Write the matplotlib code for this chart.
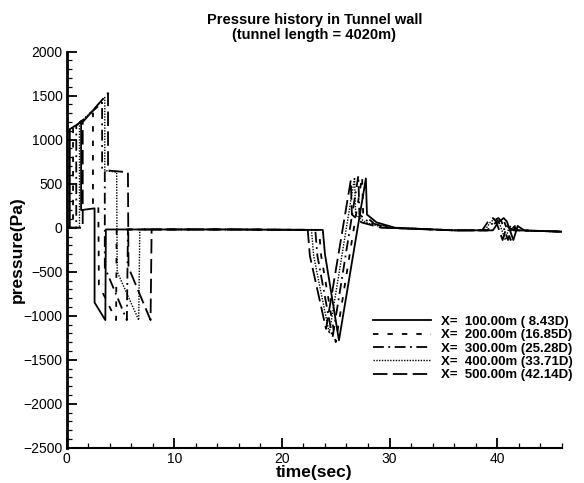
import matplotlib
matplotlib.use("Agg")
import matplotlib.pyplot as plt
from matplotlib.ticker import MultipleLocator

plt.rcParams['font.family'] = ['Liberation Sans', 'DejaVu Sans']

# ---- data (time in s, pressure in Pa) ----
t_100 = [0, 0.3, 0.3, 1.35, 1.35, 2.6, 2.6, 3.6, 3.65, 8, 15, 23.8, 24.0, 25.3, 27.8, 27.9, 28.8, 30.5, 36, 39.6, 40.1, 40.6, 40.9, 41.5, 41.9, 42.5, 46]
p_100 = [0, 0, 1120, 1200, 200, 220, -850, -1050, -20, -20, -20, -25, -300, -1280, 560, 150, 60, 0, -30, -30, 60, 110, 70, -140, 20, -30, -45]

t_200 = [0, 0.6, 0.6, 2.45, 2.45, 2.95, 3.0, 4.6, 4.65, 8, 15, 23.45, 23.65, 25.0, 27.45, 27.55, 28.45, 30.2, 36, 39.35, 39.85, 40.35, 40.65, 41.25, 41.65, 42.25, 46]
p_200 = [0, 0, 1150, 1300, 250, 250, -650, -1050, -20, -20, -20, -25, -320, -1300, 580, 150, 60, 0, -30, -30, 60, 110, 70, -140, 20, -30, -45]

t_300 = [0, 0.9, 0.9, 3.3, 3.3, 3.55, 3.55, 5.6, 5.7, 8, 15, 23.1, 23.3, 24.7, 27.1, 27.2, 28.1, 29.9, 36, 39.1, 39.6, 40.1, 40.4, 41.0, 41.4, 42.0, 46]
p_300 = [0, 0, 1160, 1420, 650, 640, -450, -1050, -20, -20, -20, -25, -320, -1250, 590, 150, 60, 0, -30, -30, 60, 110, 70, -140, 20, -30, -45]

t_400 = [0, 1.2, 1.2, 3.55, 3.55, 4.65, 4.7, 6.7, 6.8, 8, 15, 22.75, 22.95, 24.4, 26.75, 26.85, 27.75, 29.5, 36, 38.85, 39.35, 39.85, 40.15, 40.75, 41.15, 41.75, 46]
p_400 = [0, 0, 1180, 1480, 650, 630, -500, -1050, -20, -20, -20, -25, -320, -1200, 570, 150, 60, 0, -30, -30, 60, 110, 70, -140, 20, -30, -45]

t_500 = [0, 1.5, 1.5, 3.85, 3.85, 5.7, 5.75, 7.8, 7.9, 15, 22.4, 22.6, 24.1, 26.4, 26.5, 27.4, 29.2, 36, 38.6, 39.1, 39.6, 39.9, 40.5, 40.9, 41.5, 46]
p_500 = [0, 0, 1200, 1530, 650, 630, -450, -1050, -20, -20, -25, -320, -1150, 540, 150, 60, 0, -30, -30, 60, 110, 70, -140, 20, -30, -45]

labels = ["X=  100.00m ( 8.43D)", "X=  200.00m (16.85D)", "X=  300.00m (25.28D)",
          "X=  400.00m (33.71D)", "X=  500.00m (42.14D)"]

series_t = [t_100, t_200, t_300, t_400, t_500]
series_p = [p_100, p_200, p_300, p_400, p_500]
styles = ['-', (0, (3, 5)), (0, (6, 2.5, 1, 2.5)), (0, (1, 1)), (0, (8, 3))]
widths = [1.3, 1.3, 1.3, 1.0, 1.3]

fig = plt.figure(figsize=(5.84, 4.83), dpi=100)
ax = fig.add_axes([0.114, 0.073, 0.848, 0.820])

for t, p, ls, lw, lab in zip(series_t, series_p, styles, widths, labels):
    ax.plot(t, p, color='black', linestyle=ls, linewidth=lw, label=lab)

ax.set_xlim(0, 46)
ax.set_ylim(-2500, 2000)
ax.xaxis.set_major_locator(MultipleLocator(10))
ax.xaxis.set_minor_locator(MultipleLocator(2))
ax.yaxis.set_major_locator(MultipleLocator(500))
ax.yaxis.set_minor_locator(MultipleLocator(100))
ax.tick_params(which='both', direction='in', labelsize=10, width=1.3, pad=3)
ax.tick_params(which='major', length=7)
ax.tick_params(which='minor', length=3.5, width=0.9)
ax.spines['top'].set_visible(False)
ax.spines['right'].set_visible(False)
ax.spines['left'].set_linewidth(2)
ax.spines['bottom'].set_linewidth(1.5)

ax.set_title("Pressure history in Tunnel wall\n(tunnel length = 4020m)",
             fontsize=10.5, fontweight='bold', pad=9, linespacing=1.1)
ax.set_xlabel("time(sec)", fontsize=12.5, fontweight='bold', labelpad=-1)
ax.set_ylabel("pressure(Pa)", fontsize=12.5, fontweight='bold', labelpad=-1)

leg = ax.legend(loc='upper left', bbox_to_anchor=(0.618, 0.333), frameon=False,
                prop={'weight': 'bold', 'size': 9.5}, handlelength=4.4,
                handletextpad=0.75, labelspacing=0.08, borderpad=0, borderaxespad=0)

fig.savefig("out.png", dpi=100)
